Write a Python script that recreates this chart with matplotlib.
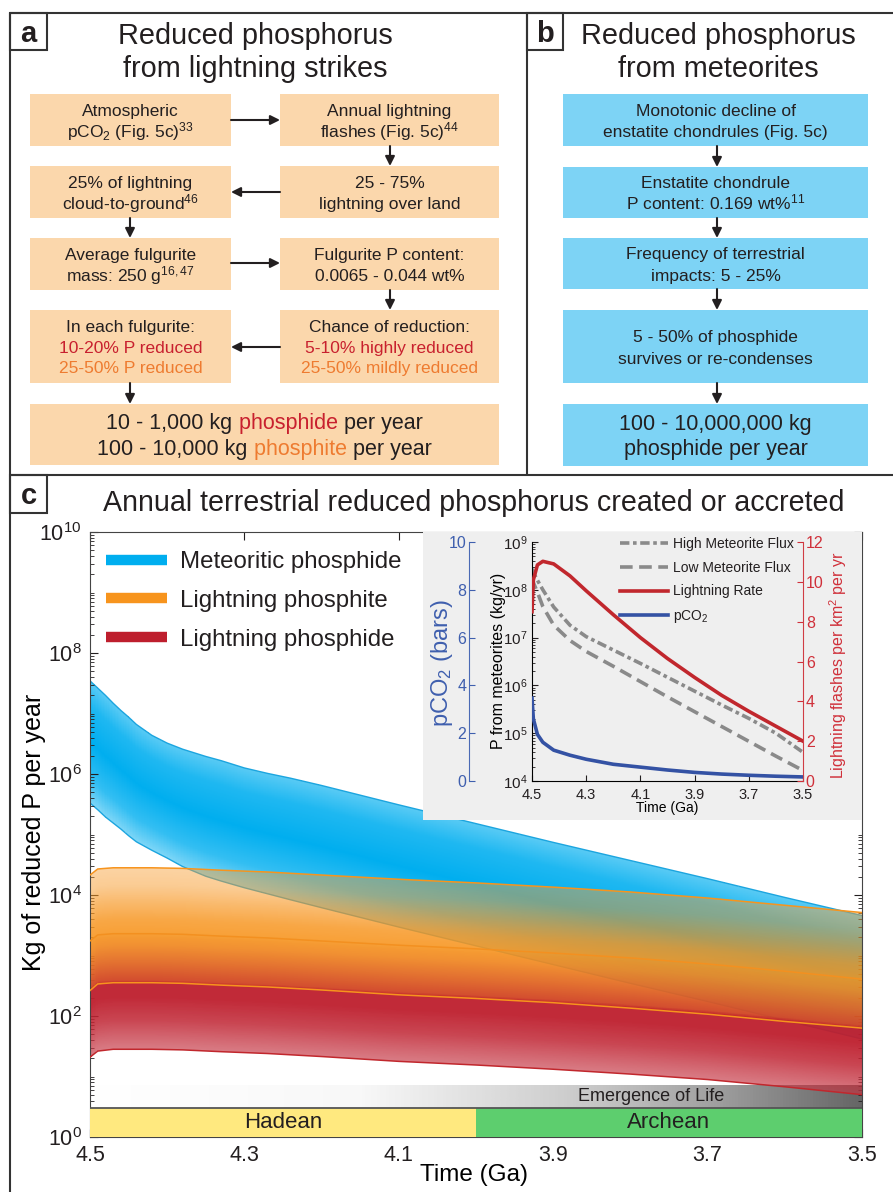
import numpy as np
import matplotlib
matplotlib.use("Agg")
import matplotlib.pyplot as plt
from matplotlib.patches import Rectangle
from matplotlib.lines import Line2D
from matplotlib.colors import LinearSegmentedColormap, to_rgb
from matplotlib.ticker import LogLocator, FixedLocator, FuncFormatter, NullFormatter

plt.rcParams["font.family"] = ["Liberation Sans", "DejaVu Sans"]
plt.rcParams["mathtext.fontset"] = "custom"
plt.rcParams["mathtext.rm"] = "Liberation Sans"
plt.rcParams["mathtext.it"] = "Liberation Sans:italic"
plt.rcParams["mathtext.bf"] = "Liberation Sans:bold"
plt.rcParams["text.color"] = "#231f20"

# ---- panel c: log10(kg reduced P per year) ----
met_time = [4.5, 4.49, 4.48, 4.47, 4.46, 4.45, 4.44, 4.42, 4.40, 4.38, 4.35, 4.33, 4.30, 4.27,
            4.24, 4.2, 4.15, 4.1, 4.0, 3.9, 3.8, 3.7, 3.6, 3.5]
met_hi_log = [7.54, 7.42, 7.30, 7.17, 7.05, 6.94, 6.82, 6.64, 6.51, 6.41, 6.29, 6.22, 6.10, 6.01,
              5.93, 5.81, 5.65, 5.49, 5.18, 4.87, 4.57, 4.27, 3.96, 3.66]
met_lo_log = [5.52, 5.41, 5.29, 5.19, 5.09, 4.98, 4.88, 4.74, 4.61, 4.47, 4.31, 4.23, 4.12, 4.02,
              3.92, 3.79, 3.63, 3.47, 3.16, 2.85, 2.54, 2.24, 1.93, 1.62]

time_ga = [4.5, 4.49, 4.47, 4.45, 4.42, 4.38, 4.33, 4.27, 4.2, 4.1, 4.0, 3.9, 3.8, 3.7, 3.6, 3.5]
ite_hi_log = [4.33, 4.43, 4.45, 4.45, 4.45, 4.44, 4.41, 4.38, 4.33, 4.26, 4.20, 4.13, 4.05, 3.95, 3.83, 3.71]
ite_lo_log = [2.42, 2.53, 2.55, 2.55, 2.55, 2.54, 2.51, 2.48, 2.43, 2.35, 2.29, 2.22, 2.13, 2.03, 1.91, 1.80]
ide_hi_log = [3.24, 3.34, 3.36, 3.36, 3.36, 3.35, 3.32, 3.29, 3.24, 3.17, 3.11, 3.04, 2.96, 2.86, 2.74, 2.61]
ide_lo_log = [1.32, 1.42, 1.45, 1.45, 1.45, 1.44, 1.41, 1.38, 1.33, 1.25, 1.19, 1.12, 1.04, 0.95, 0.83, 0.70]

era_names = ["Hadean", "Archean"]
era_start = [4.5, 4.0]
era_end = [4.0, 3.5]

# ---- inset ----
in_time = [4.5, 4.495, 4.48, 4.46, 4.42, 4.36, 4.3, 4.2, 4.1, 4.0, 3.9, 3.8, 3.7, 3.6, 3.5]
high_flux_log = [8.44, 8.36, 8.20, 8.00, 7.64, 7.26, 7.02, 6.74, 6.46, 6.17, 5.88, 5.59, 5.31, 5.00, 4.60]
low_flux_log = [8.27, 8.15, 7.95, 7.65, 7.26, 6.94, 6.71, 6.40, 6.08, 5.76, 5.45, 5.14, 4.83, 4.52, 4.22]
lightning_rate = [8.5, 10.1, 10.85, 11.03, 10.9, 10.3, 9.55, 8.35, 7.2, 6.15, 5.2, 4.3, 3.5, 2.75, 2.0]
pco2_bars = [3.47, 2.6, 1.95, 1.62, 1.29, 1.08, 0.91, 0.70, 0.58, 0.46, 0.36, 0.29, 0.24, 0.20, 0.17]

RED_T = "#c8202e"
ORA_T = "#ee7b30"
INK = "#231f20"
PEACH = "#fbd7ac"
SKY = "#7dd3f5"

W, H = 893, 1192
fig = plt.figure(figsize=(W / 100, H / 100), dpi=100)


def fig_rect(x0, y0, x1, y1):
    return [x0 / W, 1 - y1 / H, (x1 - x0) / W, (y1 - y0) / H]


# overlay in pixel coordinates for panels a / b and the frames
ov = fig.add_axes([0, 0, 1, 1])
ov.set_xlim(0, W)
ov.set_ylim(H, 0)
ov.axis("off")
ov.set_zorder(10)
renderer = fig.canvas.get_renderer()


def text_width(s, size):
    t = ov.text(0, 0, s, fontsize=size)
    w = t.get_window_extent(renderer).width
    t.remove()
    return w


def write_lines(cx, cy, rows, size, pitch):
    n = len(rows)
    for i, segs in enumerate(rows):
        if isinstance(segs, str):
            segs = [(segs, INK)]
        y = cy + (i - (n - 1) / 2) * pitch + size * 1.389 * 0.36
        if len(segs) == 1:
            ov.text(cx, y, segs[0][0], color=segs[0][1], fontsize=size, ha="center", va="baseline")
            continue
        full = "".join(s for s, _ in segs)
        x0 = cx - text_width(full, size) / 2
        prefix = ""
        for s, c in segs:
            off = text_width(prefix + "|", size) - text_width("|", size) if prefix else 0
            ov.text(x0 + off, y, s, color=c, fontsize=size, ha="left", va="baseline")
            prefix += s


def box(x0, y0, x1, y1, fc, rows, size=12.5, pitch=21.5):
    ov.add_patch(Rectangle((x0, y0), x1 - x0, y1 - y0, facecolor=fc, edgecolor="none"))
    write_lines((x0 + x1) / 2, (y0 + y1) / 2, rows, size, pitch)


def arrow(x0, y0, x1, y1):
    ov.annotate("", xy=(x1, y1), xytext=(x0, y0),
                arrowprops=dict(arrowstyle="-|>", color=INK, lw=1.5, mutation_scale=14,
                                shrinkA=0, shrinkB=0))


def label_box(x0, y0, x1, y1, s):
    ov.add_patch(Rectangle((x0, y0), x1 - x0, y1 - y0, facecolor="white", edgecolor="#333333", lw=1.5))
    ov.text((x0 + x1) / 2, (y0 + y1) / 2 + 2, s, fontsize=21, fontweight="bold", ha="center", va="center")


# frames
for xs, ys in [([10, W], [13, 13]), ([10, 10], [13, H]), ([527, 527], [13, 475]), ([10, W], [475, 475])]:
    ov.plot(xs, ys, color="#333333", lw=1.5, solid_capstyle="butt")

# ---- panel a ----
label_box(10, 13, 47, 50, "a")
write_lines(255, 50, ["Reduced phosphorus", "from lightning strikes"], 20.8, 33)
box(30, 94, 231, 146, PEACH, ["Atmospheric", "pCO$_2$ (Fig. 5c)$^{33}$"])
box(280, 94, 499, 146, PEACH, ["Annual lightning", "flashes (Fig. 5c)$^{44}$"])
box(30, 166, 231, 218, PEACH, ["25% of lightning", "cloud-to-ground$^{46}$"])
box(280, 166, 499, 218, PEACH, ["25 - 75%", "lightning over land"])
box(30, 238, 231, 290, PEACH, ["Average fulgurite", "mass: 250 g$^{16,47}$"])
box(280, 238, 499, 290, PEACH, ["Fulgurite P content:", "0.0065 - 0.044 wt%"])
box(30, 310, 231, 383, PEACH, ["In each fulgurite:", [("10-20% P reduced", RED_T)],
                               [("25-50% P reduced", ORA_T)]], pitch=20.5)
box(280, 310, 499, 383, PEACH, ["Chance of reduction:", [("5-10% highly reduced", RED_T)],
                                [("25-50% mildly reduced", ORA_T)]], pitch=20.5)
box(30, 404, 499, 465, PEACH, [[("10 - 1,000 kg ", INK), ("phosphide ", RED_T), ("per year", INK)],
                               [("100 - 10,000 kg ", INK), ("phosphite ", ORA_T), ("per year", INK)]],
    size=15.5, pitch=26)
arrow(231, 120, 280, 120)
arrow(390, 146, 390, 166)
arrow(280, 192, 231, 192)
arrow(130, 218, 130, 238)
arrow(231, 263, 280, 263)
arrow(390, 290, 390, 310)
arrow(280, 347, 231, 347)
arrow(130, 383, 130, 404)

# ---- panel b ----
label_box(527, 13, 563, 50, "b")
write_lines(718, 50, ["Reduced phosphorus", "from meteorites"], 20.8, 33)
box(563, 94, 868, 146, SKY, ["Monotonic decline of", "enstatite chondrules (Fig. 5c)"])
box(563, 167, 868, 218, SKY, ["Enstatite chondrule", "P content: 0.169 wt%$^{11}$"])
box(563, 238, 868, 289, SKY, ["Frequency of terrestrial", "impacts: 5 - 25%"])
box(563, 310, 868, 383, SKY, ["5 - 50% of phosphide", "survives or re-condenses"], pitch=22.5)
box(563, 404, 868, 466, SKY, ["100 - 10,000,000 kg", "phosphide per year"], size=15.5, pitch=25)
for y0, y1 in [(146, 167), (218, 238), (289, 310), (383, 404)]:
    arrow(717, y0, 717, y1)

# ---- panel c ----
label_box(10, 475, 47, 513, "c")
write_lines(474, 501, ["Annual terrestrial reduced phosphorus created or accreted"], 20.6, 0)

ax = fig.add_axes(fig_rect(90, 532, 862, 1137))
ax.set_yscale("log")
ax.set_xlim(4.5, 3.5)
ax.set_ylim(1, 1e10)

gx = np.linspace(4.5, 3.5, 501)
gy = np.linspace(0, 10, 1501)
cxs = (gx[:-1] + gx[1:]) / 2
cys = (gy[:-1] + gy[1:]) / 2
GX, GY = np.meshgrid(gx, 10 ** gy)


def gradient_band(tx, lo_log, hi_log, base, knots_t, knots_a, knots_w, z):
    tx = np.array(tx)
    lo = np.interp(cxs, tx[::-1], np.array(lo_log)[::-1])
    hi = np.interp(cxs, tx[::-1], np.array(hi_log)[::-1])
    t = (cys[:, None] - lo[None, :]) / (hi - lo)[None, :]
    inside = (t >= 0) & (t <= 1)
    tc = np.clip(t, 0, 1)
    w = np.interp(tc, knots_t, knots_w)[..., None]
    rgba = np.empty(t.shape + (4,))
    rgba[..., :3] = np.array(to_rgb(base)) * (1 - w) + w
    rgba[..., 3] = np.interp(tc, knots_t, knots_a) * inside
    ax.pcolormesh(GX, GY, rgba, shading="flat", zorder=z)


gradient_band(met_time, met_lo_log, met_hi_log, "#00aeef", [0, 0.2, 0.5, 0.8, 1], [1, 1, 1, 1, 1],
              [0.5, 0.2, 0.0, 0.12, 0.35], 1)
ax.plot(met_time, 10 ** np.array(met_hi_log), color="#1ca5df", lw=1, zorder=1.5)
ax.plot(met_time, 10 ** np.array(met_lo_log), color="#1ca5df", lw=1, zorder=1.5)
gradient_band(time_ga, ite_lo_log, ite_hi_log, "#f7941d", [0, 0.4, 0.55, 0.7, 0.85, 1],
              [0.9, 0.9, 0.82, 0.65, 0.5, 0.45], [0, 0, 0, 0, 0.05, 0.1], 2)
gradient_band(time_ga, ide_lo_log, ide_hi_log, "#be1e2d", [0, 0.25, 0.45, 0.57, 0.6, 0.75, 0.9, 1],
              [0.66, 0.85, 0.95, 0.95, 0.62, 0.35, 0.1, 0.0], [0.12, 0.03, 0, 0, 0, 0, 0, 0], 2.5)
for arr, col in [(ite_hi_log, "#f7941d"), (ide_hi_log, "#f39020"), (ite_lo_log, "#f7941d"),
                 (ide_lo_log, "#c1272d")]:
    ax.plot(time_ga, 10 ** np.array(arr), color=col, lw=1.1, zorder=3)

# eras and emergence of life
for name, s, e, c in zip(era_names, era_start, era_end, ["#ffe97f", "#5dce6e"]):
    ax.fill_between([s, e], 1, 3.0, color=c, lw=0, zorder=4)
    ax.text((s + e) / 2, 1.72, name, fontsize=16, ha="center", va="center", zorder=6)
ax.axhline(3.0, color="#555555", lw=1.3, zorder=4.5)
life_cmap = LinearSegmentedColormap.from_list(
    "life", [(0, "#ffffff"), (0.35, "#f8f8f8"), (0.65, "#c8c8c8"), (0.81, "#a0a0a0"), (1, "#666666")])
ax.imshow(np.linspace(0, 1, 256)[None, :], extent=(4.5, 3.5, 3.0, 7.2), aspect="auto",
          cmap=life_cmap, interpolation="bilinear", zorder=0.5)
ax.text(3.773, 4.67, "Emergence of Life", fontsize=13, ha="center", va="center", zorder=6)
ax.set_xlim(4.5, 3.5)
ax.set_ylim(1, 1e10)

# inset background
ax.add_patch(Rectangle((0.431, 0.524), 0.569, 0.476, transform=ax.transAxes,
                       facecolor="#efefef", edgecolor="none", zorder=5))

ax.set_xticks([4.5, 4.3, 4.1, 3.9, 3.7, 3.5])
ax.set_xticklabels(["4.5", "4.3", "4.1", "3.9", "3.7", "3.5"])
ax.yaxis.set_major_locator(FixedLocator([10.0 ** k for k in range(0, 11, 2)]))
ax.yaxis.set_major_formatter(FuncFormatter(lambda v, p: "$10^{%d}$" % round(np.log10(v))))
ax.yaxis.set_minor_locator(LogLocator(base=10, subs=np.arange(1, 10) * 1.0, numticks=100))
ax.yaxis.set_minor_formatter(NullFormatter())
ax.tick_params(which="both", direction="in", top=True, right=True, labelsize=15.5, colors=INK)
ax.tick_params(which="major", length=6, pad=6)
ax.tick_params(which="minor", length=3)
for sp in ax.spines.values():
    sp.set_color("#444444")
ax.set_ylabel("Kg of reduced P per year", fontsize=18)
ax.yaxis.label.set(ha="center", va="center")
ax.yaxis.set_label_coords(-0.073, 0.504)
ax.set_xlabel("Time (Ga)", fontsize=17.5)
ax.xaxis.label.set(ha="center", va="center")
ax.xaxis.set_label_coords(0.497, -0.063)

legend_handles = [Line2D([], [], color=c, lw=7.5, solid_capstyle="butt")
                  for c in ["#00aeef", "#f7941d", "#be1e2d"]]
leg = ax.legend(legend_handles, ["Meteoritic phosphide", "Lightning phosphite", "Lightning phosphide"],
                loc="upper left", bbox_to_anchor=(106 / W, 1 - 551 / H), bbox_transform=fig.transFigure,
                frameon=False, fontsize=17.3, handlelength=2.55, handletextpad=0.52,
                labelspacing=0.7, borderpad=0, borderaxespad=0)
leg.set_zorder(7)

# ---- inset ----
ti = np.array(in_time)
ax_in = fig.add_axes(fig_rect(532, 542, 803, 781))
ax_in.patch.set_alpha(0)
ax_in.set_yscale("log")
ax_p = ax_in.twinx()
ax_r = ax_in.twinx()

h_hi, = ax_in.plot(ti, 10 ** np.array(high_flux_log), color="#8a8a8a", lw=2.6, dashes=(2.6, 1.0, 1.0, 1.0))
h_lo, = ax_in.plot(ti, 10 ** np.array(low_flux_log), color="#8a8a8a", lw=2.6, dashes=(3.5, 1.8))
ax_in.set_xlim(4.5, 3.5)
ax_in.set_ylim(1e4, 1e9)
ax_in.set_xticks([4.5, 4.3, 4.1, 3.9, 3.7, 3.5])
ax_in.set_xticklabels(["4.5", "4.3", "4.1", "3.9", "3.7", "3.5"])
ax_in.yaxis.set_major_locator(FixedLocator([10.0 ** k for k in range(4, 10)]))
ax_in.yaxis.set_major_formatter(FuncFormatter(lambda v, p: "$10^{%d}$" % round(np.log10(v))))
ax_in.yaxis.set_minor_locator(LogLocator(base=10, subs=np.arange(2, 10) * 1.0, numticks=100))
ax_in.yaxis.set_minor_formatter(NullFormatter())
ax_in.tick_params(which="both", direction="in", colors=INK)
ax_in.tick_params(axis="x", labelsize=10.5, pad=5)
ax_in.tick_params(axis="y", labelsize=11, pad=3)
ax_in.tick_params(which="major", length=4)
ax_in.tick_params(which="minor", length=2)
ax_in.spines["top"].set_visible(False)
ax_in.spines["right"].set_visible(False)
ax_in.set_ylabel("P from meteorites (kg/yr)", fontsize=11.5)
ax_in.yaxis.label.set(ha="center", va="center")
ax_in.yaxis.set_label_coords(-0.125, 0.502)
ax_in.set_xlabel("Time (Ga)", fontsize=10)
ax_in.xaxis.label.set(ha="center", va="center")
ax_in.xaxis.set_label_coords(0.498, -0.112)

BLUE = "#3452a4"
h_p, = ax_p.plot(ti, pco2_bars, color=BLUE, lw=2.6)
ax_p.set_ylim(0, 10)
ax_p.yaxis.tick_left()
ax_p.yaxis.set_label_position("left")
for k in ["right", "top", "bottom"]:
    ax_p.spines[k].set_visible(False)
ax_p.spines["left"].set_visible(True)
ax_p.spines["left"].set_position(("axes", -0.2325))
ax_p.spines["left"].set_color("#4a6ab5")
ax_p.set_yticks(range(0, 11, 2))
ax_p.tick_params(direction="in", length=4, colors="#3f5fae", labelsize=11.5, pad=2)
ax_p.set_ylabel("pCO$_2$ (bars)", fontsize=17, color="#3f5fae")
ax_p.yaxis.label.set(ha="center", va="center")
ax_p.yaxis.set_label_coords(-0.332, 0.494)

RED = "#c1272d"
h_r, = ax_r.plot(ti, lightning_rate, color=RED, lw=2.6)
ax_r.set_ylim(0, 12)
for k in ["left", "top", "bottom"]:
    ax_r.spines[k].set_visible(False)
ax_r.spines["right"].set_color("#d03c44")
ax_r.set_yticks(range(0, 13, 2))
ax_r.tick_params(direction="in", length=4, colors="#d0303a", labelsize=11.5, pad=2)
ax_r.set_ylabel("Lightning flashes per km$^2$ per yr", fontsize=11.5, color="#d0303a")
ax_r.yaxis.label.set(ha="center", va="center")
ax_r.yaxis.set_label_coords(1.129, 0.485)
ax_r.set_xlim(4.5, 3.5)

ax_r.legend([h_hi, h_lo, h_r, h_p], ["High Meteorite Flux", "Low Meteorite Flux", "Lightning Rate", "pCO$_2$"],
            loc="upper left", bbox_to_anchor=(620 / W, 1 - 537 / H), bbox_transform=fig.transFigure,
            frameon=False, fontsize=10, handlelength=3.45, handletextpad=0.4, labelspacing=0.7,
            borderpad=0, borderaxespad=0)

fig.savefig("out.png", dpi=100)
